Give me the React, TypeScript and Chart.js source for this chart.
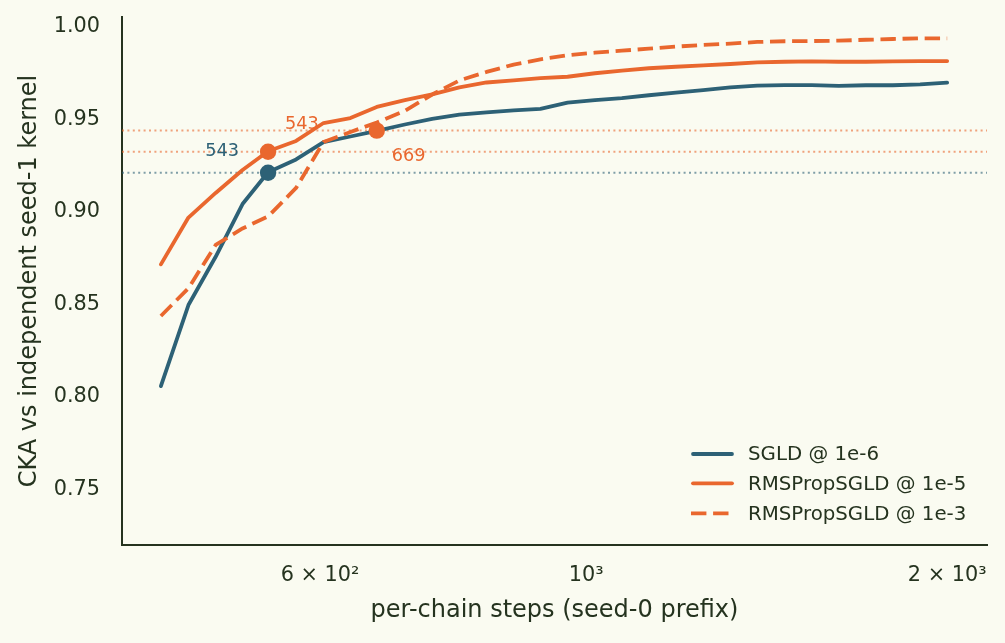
import React, { useEffect, useRef } from "react";
import { Chart, registerables } from "chart.js";

Chart.register(...registerables);

// Prefix lengths (per-chain steps) at which CKA was evaluated
const steps = [442, 466, 491, 517, 543, 573, 604, 636, 669, 706, 744, 784, 826, 870, 916, 965, 1017, 1071, 1128, 1188, 1252, 1319, 1389, 1464, 1542, 1624, 1711, 1802, 1899, 2000];

const sgldCka = [0.8059, 0.8497, 0.8758, 0.9043, 0.9215, 0.9284, 0.9378, 0.9408, 0.9439, 0.9473, 0.9503, 0.9526, 0.9539, 0.9549, 0.9557, 0.9591, 0.9605, 0.9615, 0.9631, 0.9645, 0.9659, 0.9674, 0.9683, 0.9686, 0.9686, 0.9682, 0.9685, 0.9685, 0.969, 0.9699];
const rmsprop1e5Cka = [0.8717, 0.897, 0.9103, 0.9227, 0.9328, 0.9384, 0.9481, 0.9508, 0.9568, 0.9605, 0.9636, 0.9674, 0.97, 0.9711, 0.9724, 0.9731, 0.975, 0.9764, 0.9777, 0.9785, 0.9793, 0.98, 0.9809, 0.9812, 0.9814, 0.9812, 0.9812, 0.9814, 0.9815, 0.9816];
const rmsprop1e3Cka = [0.8438, 0.8588, 0.8822, 0.8911, 0.8976, 0.913, 0.9378, 0.9432, 0.9484, 0.9546, 0.9635, 0.9711, 0.9757, 0.9797, 0.9825, 0.9847, 0.9861, 0.9872, 0.9883, 0.9894, 0.9903, 0.991, 0.9919, 0.9923, 0.9924, 0.9926, 0.9931, 0.9935, 0.9939, 0.9939];

const seriesNames = ["SGLD @ 1e-6", "RMSPropSGLD @ 1e-5", "RMSPropSGLD @ 1e-3"];

// 95%-of-final thresholds and the first prefix length reaching each
const thresholdCka = [0.9212, 0.9326, 0.944];
const thresholdStep = [543, 543, 669];

const xTickValues = [600, 1000, 2000];
const xTickLabels = ["6 × 10²", "10³", "2 × 10³"];
const yTickValues = [0.75, 0.8, 0.85, 0.9, 0.95, 1.0];

const FONT = '"DejaVu Sans", "Liberation Sans", sans-serif';
const INK = "#25331f";
const BG = "#fafbf1";
const BLUE = "#2d6176";
const ORANGE = "#e9672e";
const seriesColors = [BLUE, ORANGE, ORANGE];
const seriesDash: number[][] = [[], [], [15.4, 6.7]];
const refLineColors = ["rgba(45,97,118,0.6)", "rgba(233,103,46,0.6)", "rgba(233,103,46,0.6)"];
// marker label placement: [dx, dy, textAlign]
const markerLabelOffsets: [number, number, CanvasTextAlign][] = [
  [-29, -21, "right"],
  [17, -27, "left"],
  [15, 26, "left"],
];

const seriesValues = [sgldCka, rmsprop1e5Cka, rmsprop1e3Cka];

const overlayPlugin = {
  id: "ckaOverlay",
  beforeDraw(chart: any) {
    const { ctx, width, height } = chart;
    ctx.save();
    ctx.fillStyle = BG;
    ctx.fillRect(0, 0, width, height);
    ctx.restore();
  },
  beforeDatasetsDraw(chart: any) {
    const { ctx, chartArea, scales } = chart;
    ctx.save();
    ctx.lineWidth = 2;
    ctx.setLineDash([2, 3.4]);
    thresholdCka.forEach((t, i) => {
      const y = scales.y.getPixelForValue(t);
      ctx.strokeStyle = refLineColors[i];
      ctx.beginPath();
      ctx.moveTo(chartArea.left, y);
      ctx.lineTo(chartArea.right, y);
      ctx.stroke();
    });
    ctx.restore();
  },
  afterDatasetsDraw(chart: any) {
    const { ctx, scales } = chart;
    ctx.save();
    ctx.font = `17.7px ${FONT}`;
    ctx.textBaseline = "middle";
    thresholdStep.forEach((s, i) => {
      const px = scales.x.getPixelForValue(s);
      const py = scales.y.getPixelForValue(thresholdCka[i]);
      const [dx, dy, align] = markerLabelOffsets[i];
      ctx.fillStyle = seriesColors[i];
      ctx.textAlign = align;
      ctx.fillText(String(s), px + dx, py + dy);
    });
    ctx.restore();
  },
  afterDraw(chart: any) {
    const { ctx, chartArea } = chart;
    const rowOffsets = [91, 61.7, 31.7];
    ctx.save();
    ctx.font = `19.8px ${FONT}`;
    ctx.textBaseline = "middle";
    ctx.textAlign = "left";
    seriesNames.forEach((name, i) => {
      const y = chartArea.bottom - rowOffsets[i];
      ctx.strokeStyle = seriesColors[i];
      ctx.lineWidth = 3.8;
      ctx.setLineDash(seriesDash[i]);
      ctx.lineCap = seriesDash[i].length ? "butt" : "round";
      ctx.beginPath();
      ctx.moveTo(chartArea.right - (seriesDash[i].length ? 296 : 294), y);
      ctx.lineTo(chartArea.right - 255, y);
      ctx.stroke();
      ctx.setLineDash([]);
      ctx.fillStyle = INK;
      ctx.fillText(name, chartArea.right - 239, y + 1.3);
    });
    ctx.restore();
  },
};

export default function App() {
  const canvasRef = useRef<HTMLCanvasElement>(null);

  useEffect(() => {
    document.body.style.margin = "0";
    document.body.style.background = BG;
    const canvas = canvasRef.current;
    if (!canvas) return;

    const lineSets = seriesValues.map((vals, i) => ({
      label: seriesNames[i],
      data: steps.map((s, j) => ({ x: s, y: vals[j] })),
      borderColor: seriesColors[i],
      backgroundColor: seriesColors[i],
      borderWidth: 3.8,
      borderDash: seriesDash[i],
      borderCapStyle: (seriesDash[i].length ? "butt" : "round") as CanvasLineCap,
      borderJoinStyle: "round" as CanvasLineJoin,
      pointRadius: 0,
      tension: 0,
      fill: false,
      order: 3 - i,
    }));

    const markerSets = thresholdStep.map((s, i) => ({
      label: `${seriesNames[i]} threshold`,
      data: [{ x: s, y: thresholdCka[i] }],
      showLine: false,
      pointRadius: 8.2,
      pointBorderWidth: 0,
      pointBackgroundColor: seriesColors[i],
      pointBorderColor: seriesColors[i],
      borderColor: seriesColors[i],
      order: 0,
    }));

    const chart = new Chart(canvas, {
      type: "line",
      data: { datasets: [...lineSets, ...markerSets] as any },
      plugins: [overlayPlugin],
      options: {
        responsive: false,
        devicePixelRatio: 1,
        animation: false,
        layout: { autoPadding: false, padding: { top: 17, right: 18, bottom: 0, left: 0 } } as any,
        plugins: {
          legend: { display: false },
          tooltip: { enabled: false },
        },
        scales: {
          x: {
            type: "logarithmic",
            min: 410.2,
            max: 2159,
            grid: { display: false, drawTicks: false },
            border: { display: true, color: INK, width: 2 },
            ticks: {
              padding: 17.7,
              color: INK,
              autoSkip: false,
              maxRotation: 0,
              font: { family: FONT, size: 20.8 },
              callback: (_v: any, i: number) => xTickLabels[i],
            },
            afterBuildTicks: (s: any) => {
              s.ticks = xTickValues.map((v) => ({ value: v }));
            },
            afterFit: (s: any) => {
              s.height = 98;
              s.paddingLeft = 0;
              s.paddingRight = 0;
            },
            title: {
              display: true,
              text: "per-chain steps (seed-0 prefix)",
              color: INK,
              font: { family: FONT, size: 24 },
              padding: { top: 0, bottom: 18.1 },
            },
          },
          y: {
            type: "linear",
            min: 0.72,
            max: 1.0054,
            grid: { display: false, drawTicks: false },
            border: { display: true, color: INK, width: 2 },
            ticks: {
              padding: 22,
              color: INK,
              font: { family: FONT, size: 20.8 },
              callback: (v: any) => Number(v).toFixed(2),
            },
            afterBuildTicks: (s: any) => {
              s.ticks = yTickValues.map((v) => ({ value: v }));
            },
            afterFit: (s: any) => {
              s.width = 122;
              s.paddingTop = 0;
              s.paddingBottom = 0;
            },
            title: {
              display: true,
              text: "CKA vs independent seed-1 kernel",
              color: INK,
              font: { family: FONT, size: 24 },
              padding: { top: 15, bottom: 0 },
            },
          },
        },
      } as any,
    });

    return () => chart.destroy();
  }, []);

  return (
    <div style={{ width: 1005, height: 643, background: BG }}>
      <canvas ref={canvasRef} width={1005} height={643} style={{ display: "block", width: 1005, height: 643 }} />
    </div>
  );
}
